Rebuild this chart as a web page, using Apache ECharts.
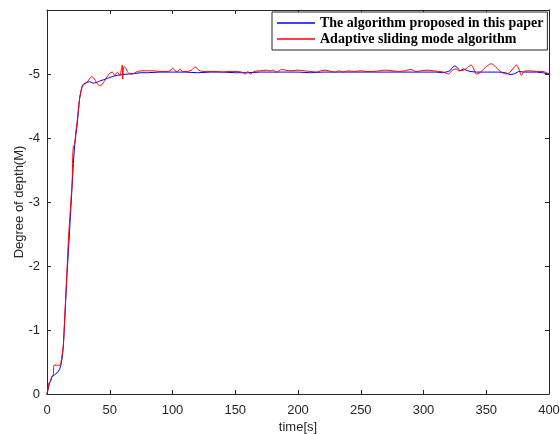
<!DOCTYPE html>
<html>
<head>
<meta charset="utf-8">
<script src="https://cdn.jsdelivr.net/npm/echarts@6/dist/echarts.min.js"></script>
<style>
  html, body { margin: 0; padding: 0; background: #fff; }
  #chart { width: 560px; height: 434px; }
</style>
</head>
<body>
<div id="chart"></div>
<script>
// Depth response over time for the two controllers
const seriesNames = ['The algorithm proposed in this paper', 'Adaptive sliding mode algorithm'];

const proposedTime = [0, 1, 2, 3, 4, 5, 6, 7, 8, 9, 10, 11, 12, 13, 14, 15, 16, 17, 18, 19, 20, 21, 22, 23, 24, 25, 26, 27, 28, 29, 30, 32, 34, 36, 38, 40, 42, 45, 48, 52, 56, 60, 65, 70, 75, 80, 90, 100, 110, 120, 130, 140, 150, 160, 170, 180, 190, 200, 210, 220, 230, 240, 250, 260, 270, 280, 290, 300, 310, 315, 318, 321, 323, 325, 327, 329, 332, 334, 337, 342, 350, 360, 365, 369, 372, 376, 380, 390, 395, 400];
const proposedDepth = [0, -0.08, -0.17, -0.2, -0.27, -0.27, -0.3, -0.31, -0.33, -0.35, -0.38, -0.45, -0.55, -0.75, -1.1, -1.5, -1.9, -2.2, -2.55, -2.9, -3.25, -3.6, -3.88, -4.05, -4.2, -4.42, -4.62, -4.72, -4.8, -4.84, -4.86, -4.87, -4.88, -4.86, -4.86, -4.87, -4.89, -4.91, -4.93, -4.96, -4.98, -4.99, -5.0, -5.01, -5.02, -5.02, -5.03, -5.03, -5.03, -5.02, -5.03, -5.03, -5.02, -5.02, -5.03, -5.03, -5.03, -5.03, -5.02, -5.03, -5.03, -5.03, -5.03, -5.03, -5.03, -5.03, -5.03, -5.03, -5.03, -5.02, -5.03, -5.05, -5.1, -5.13, -5.1, -5.05, -5.08, -5.06, -5.04, -5.03, -5.03, -5.03, -5.02, -4.99, -5.0, -5.04, -5.03, -5.03, -5.02, -5.0];

const slidingTime = [0, 1.5, 3, 3.7, 5, 5.6, 10.4, 11, 12, 13, 14, 15, 16, 17, 18, 19, 20, 20.5, 21, 22, 23, 24, 25, 26, 27, 28, 29, 30, 32, 34, 35.6, 37, 38.5, 40, 42, 44, 46, 48, 50, 52, 54, 56, 58, 59.5, 60, 60.3, 61, 62, 64, 66, 68, 71, 75, 80, 85, 90, 95, 98, 100, 102, 104, 106, 108, 112, 115, 118, 121, 124, 130, 135, 140, 145, 150, 155, 158, 160, 162, 165, 170, 175, 178, 180, 183, 187, 190, 195, 200, 205, 210, 215, 218, 222, 226, 230, 233, 236, 240, 245, 250, 255, 260, 265, 270, 275, 280, 285, 290, 294, 298, 303, 308, 312, 316, 320, 323, 326, 328, 332, 335, 338, 340, 342, 345, 348, 351, 354, 357, 360, 363, 366, 369, 372, 374, 376, 378, 380, 385, 390, 395, 398, 400];
const slidingDepth = [0, -0.17, -0.2, -0.27, -0.3, -0.45, -0.45, -0.48, -0.6, -0.75, -1.15, -1.55, -1.95, -2.4, -2.7, -3.0, -3.3, -3.7, -3.87, -3.9, -4.1, -4.25, -4.45, -4.62, -4.73, -4.8, -4.83, -4.85, -4.87, -4.93, -4.96, -4.94, -4.9, -4.85, -4.82, -4.84, -4.9, -4.96, -5.01, -5.03, -4.98, -5.03, -4.98, -5.1, -5.14, -4.92, -5.1, -5.11, -5.04, -5.0, -5.0, -5.03, -5.05, -5.05, -5.05, -5.04, -5.04, -5.05, -5.09, -5.05, -5.04, -5.08, -5.04, -5.04, -5.06, -5.11, -5.06, -5.04, -5.04, -5.04, -5.03, -5.04, -5.04, -5.03, -5.0, -5.04, -5.0, -5.04, -5.05, -5.06, -5.05, -5.06, -5.03, -5.07, -5.06, -5.05, -5.06, -5.05, -5.04, -5.03, -5.05, -5.06, -5.04, -5.03, -5.05, -5.03, -5.05, -5.04, -5.05, -5.04, -5.04, -5.05, -5.06, -5.05, -5.04, -5.05, -5.07, -5.04, -5.05, -5.06, -5.05, -5.04, -5.03, -5.0, -5.06, -5.08, -5.05, -5.06, -5.1, -5.14, -5.08, -5.0, -5.02, -5.08, -5.13, -5.16, -5.12, -5.06, -5.02, -5.0, -5.03, -5.1, -5.14, -5.08, -4.98, -5.04, -5.05, -5.04, -5.04, -5.02, -5.0];

const xTicks = [0, 50, 100, 150, 200, 250, 300, 350, 400];
const yTicks = [0, -1, -2, -3, -4, -5];

const pairs = (t, v) => t.map((x, i) => [x, v[i]]);

const axisColor = '#262626';
const labelFont = { fontFamily: 'Liberation Sans, Arial, sans-serif', fontSize: 13, color: '#262626' };

const chart = echarts.init(document.getElementById('chart'), null, { renderer: 'canvas' });
chart.setOption({
  animation: false,
  backgroundColor: '#ffffff',
  grid: { left: 47, right: 11, top: 10, bottom: 40, containLabel: false, outerBoundsMode: 'none' },
  legend: {
    data: seriesNames,
    orient: 'vertical',
    left: 272,
    top: 12,
    backgroundColor: '#ffffff',
    borderColor: axisColor,
    borderWidth: 1,
    borderRadius: 0,
    padding: [4, 4, 4, 5],
    itemGap: 2,
    itemWidth: 38,
    itemHeight: 1.5,
    icon: 'rect',
    textStyle: { fontFamily: 'Liberation Serif, Times New Roman, serif', fontWeight: 'bold', fontSize: 14, color: '#000' }
  },
  xAxis: [{
    type: 'value', min: 0, max: 400, interval: 50,
    name: 'time[s]', nameLocation: 'middle', nameGap: 27, nameMoveOverlap: false,
    nameTextStyle: labelFont,
    axisLine: { show: true, lineStyle: { color: axisColor, width: 1 } },
    axisTick: { show: true, inside: true, length: 4, lineStyle: { color: axisColor } },
    axisLabel: Object.assign({ margin: 10, formatter: v => xTicks.includes(v) ? String(v) : '' }, labelFont),
    splitLine: { show: false }
  }, {
    type: 'value', min: 0, max: 400, interval: 50, position: 'top',
    axisLine: { show: true, onZero: false, lineStyle: { color: axisColor, width: 1 } },
    axisTick: { show: true, inside: true, length: 4, lineStyle: { color: axisColor } },
    axisLabel: { show: false },
    splitLine: { show: false }
  }],
  yAxis: [{
    type: 'value', min: -6, max: 0, interval: 1, inverse: true,
    name: 'Degree of depth(M)', nameLocation: 'middle', nameGap: 21, nameRotate: 90, nameMoveOverlap: false,
    nameTextStyle: labelFont,
    axisLine: { show: true, onZero: false, lineStyle: { color: axisColor, width: 1 } },
    axisTick: { show: true, inside: true, length: 4, lineStyle: { color: axisColor } },
    axisLabel: Object.assign({ margin: 7, formatter: v => yTicks.includes(v) ? String(v) : '' }, labelFont),
    splitLine: { show: false }
  }, {
    type: 'value', min: -6, max: 0, interval: 1, inverse: true, position: 'right',
    axisLine: { show: true, onZero: false, lineStyle: { color: axisColor, width: 1 } },
    axisTick: { show: true, inside: true, length: 4, lineStyle: { color: axisColor } },
    axisLabel: { show: false },
    splitLine: { show: false }
  }],
  series: [{
    name: seriesNames[0], type: 'line', showSymbol: false, symbol: 'none',
    data: pairs(proposedTime, proposedDepth),
    lineStyle: { color: '#0000ff', width: 1 }, itemStyle: { color: '#0000ff' }
  }, {
    name: seriesNames[1], type: 'line', showSymbol: false, symbol: 'none', smooth: 0.3,
    data: pairs(slidingTime, slidingDepth),
    lineStyle: { color: '#ff0000', width: 1 }, itemStyle: { color: '#ff0000' }
  }]
});
</script>
</body>
</html>
